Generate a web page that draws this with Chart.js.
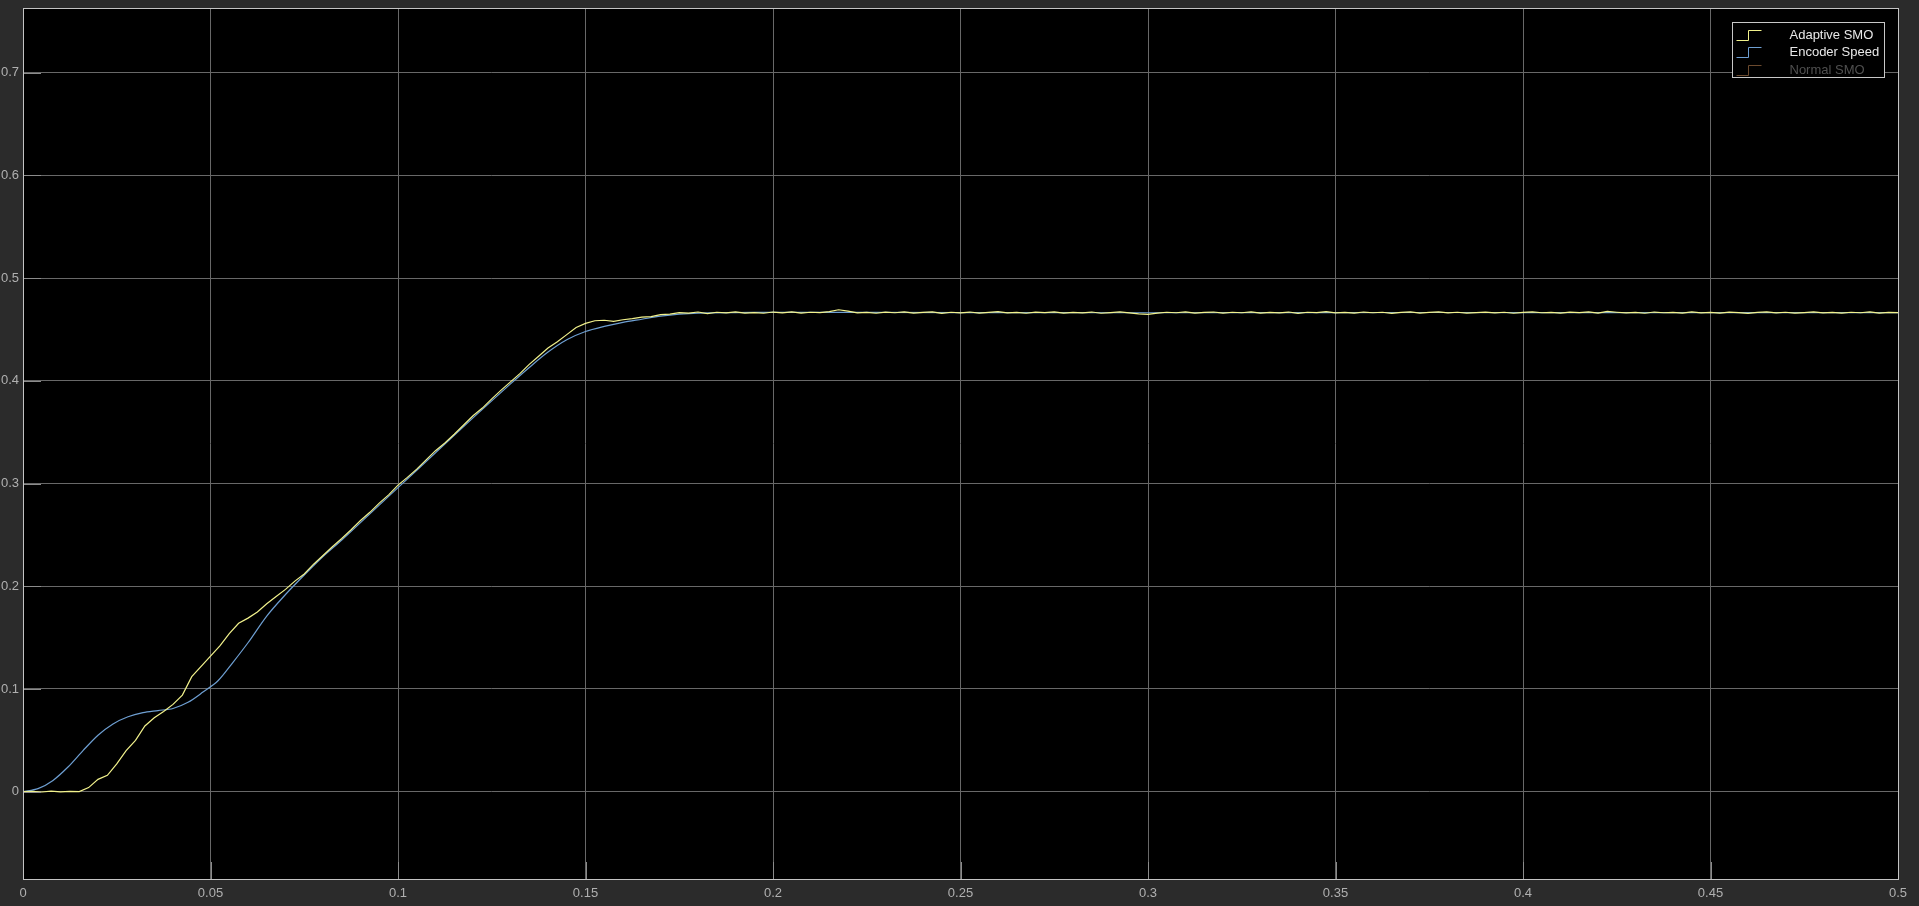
<!DOCTYPE html>
<html>
<head>
<meta charset="utf-8">
<title>Speed estimation</title>
<script src="https://cdn.jsdelivr.net/npm/chart.js@4.4.1/dist/chart.umd.min.js"></script>
<style>
    html, body { margin: 0; padding: 0; background: #2b2b2b; overflow: hidden; }
    #wrap { width: 1919px; height: 906px; position: relative; }
</style>
</head>
<body>
<div id="wrap"><canvas id="speedChart"></canvas></div>
<script>
// Axis ticks
const xTicks = [0, 0.05, 0.1, 0.15, 0.2, 0.25, 0.3, 0.35, 0.4, 0.45, 0.5];
const yTicks = [0, 0.1, 0.2, 0.3, 0.4, 0.5, 0.6, 0.7];

// Encoder speed (smooth reference)
const encoderTime = [0, 0.004, 0.008, 0.012, 0.016, 0.020, 0.024, 0.028, 0.032, 0.036,
    0.040, 0.044, 0.048, 0.052, 0.056, 0.060, 0.065, 0.070, 0.075, 0.080,
    0.085, 0.090, 0.100, 0.110, 0.120, 0.130, 0.135, 0.140, 0.145, 0.150,
    0.155, 0.160, 0.165, 0.170, 0.175, 0.180, 0.190, 0.200, 0.250, 0.300,
    0.350, 0.400, 0.450, 0.500];
const encoderSpeed = [0, 0.003, 0.011, 0.024, 0.040, 0.055, 0.066, 0.073, 0.077, 0.079,
    0.081, 0.087, 0.097, 0.108, 0.126, 0.145, 0.171, 0.192, 0.211, 0.229,
    0.245, 0.262, 0.296, 0.330, 0.364, 0.397, 0.413, 0.428, 0.440, 0.448,
    0.453, 0.457, 0.460, 0.463, 0.465, 0.466, 0.4665, 0.4667, 0.4665, 0.4663,
    0.4665, 0.4665, 0.4664, 0.4665];

// Adaptive SMO estimate, one sample every 2.5 ms from t = 0
const adaptiveDt = 0.0025;
const adaptiveSpeed = [
    0.0000, 0.0004, -0.0003, 0.0005, -0.0002, 0.0004, 0.0001, 0.0040, 0.0120, 0.0160,
    0.0270, 0.0400, 0.0500, 0.0640, 0.0720, 0.0780, 0.0850, 0.0940, 0.1120, 0.1220,
    0.1320, 0.1420, 0.1540, 0.1640, 0.1690, 0.1750, 0.1830, 0.1900, 0.1970, 0.2050,
    0.2120, 0.2215, 0.2300, 0.2385, 0.2465, 0.2550, 0.2640, 0.2720, 0.2810, 0.2890,
    0.2985, 0.3060, 0.3140, 0.3230, 0.3320, 0.3395, 0.3480, 0.3570, 0.3660, 0.3735,
    0.3825, 0.3910, 0.3990, 0.4070, 0.4160, 0.4240, 0.4320, 0.4380, 0.4450, 0.4520,
    0.4560, 0.4585, 0.4590, 0.4580, 0.4595, 0.4605, 0.4620, 0.4625, 0.4645, 0.4650,
    0.4665, 0.4660, 0.4670, 0.4655, 0.4668, 0.4662, 0.4672, 0.4660, 0.4665, 0.4658,
    0.4670, 0.4662, 0.4671, 0.4659, 0.4668, 0.4664, 0.4674, 0.4692, 0.4678, 0.4661,
    0.4667, 0.4658, 0.4669, 0.4663, 0.4672, 0.4660, 0.4666, 0.4671, 0.4657, 0.4668,
    0.4662, 0.4670, 0.4659, 0.4666, 0.4673, 0.4661, 0.4667, 0.4658, 0.4669, 0.4664,
    0.4671, 0.4660, 0.4667, 0.4662, 0.4670, 0.4658, 0.4665, 0.4671, 0.4661, 0.4652,
    0.4648, 0.4660, 0.4668, 0.4663, 0.4671, 0.4659, 0.4666, 0.4670, 0.4660, 0.4668,
    0.4663, 0.4672, 0.4659, 0.4666, 0.4662, 0.4670, 0.4657, 0.4668, 0.4664, 0.4673,
    0.4661, 0.4667, 0.4659, 0.4670, 0.4663, 0.4668, 0.4656, 0.4667, 0.4671, 0.4660,
    0.4666, 0.4672, 0.4661, 0.4668, 0.4659, 0.4665, 0.4670, 0.4662, 0.4668, 0.4658,
    0.4666, 0.4671, 0.4663, 0.4667, 0.4660, 0.4669, 0.4664, 0.4672, 0.4659, 0.4676,
    0.4668, 0.4661, 0.4667, 0.4658, 0.4670, 0.4663, 0.4666, 0.4659, 0.4671, 0.4662,
    0.4667, 0.4660, 0.4669, 0.4664, 0.4657, 0.4666, 0.4671, 0.4662, 0.4668, 0.4660,
    0.4665, 0.4672, 0.4661, 0.4667, 0.4659, 0.4668, 0.4663, 0.4671, 0.4660, 0.4666,
    0.4664
];

// Normal SMO is listed in the legend but has no trace on screen
const normalSpeed = [];

const FONT = '"Liberation Sans", Arial, Helvetica, sans-serif';

// Black plot area on the dark grey figure
const backgroundPlugin = {
    id: 'scopeBackground',
    beforeDraw(chart) {
        const ctx = chart.ctx;
        const a = chart.chartArea;
        ctx.save();
        ctx.fillStyle = '#2b2b2b';
        ctx.fillRect(0, 0, chart.width, chart.height);
        ctx.fillStyle = '#000000';
        ctx.fillRect(a.left, a.top, a.right - a.left, a.bottom - a.top);
        ctx.restore();
    }
};

// Box around the axes plus the short inner tick marks
const framePlugin = {
    id: 'scopeFrame',
    afterDraw(chart) {
        const ctx = chart.ctx;
        const a = chart.chartArea;
        const xs = chart.scales.x;
        const ys = chart.scales.y;
        ctx.save();
        ctx.strokeStyle = '#8c8c8c';
        ctx.lineWidth = 1;
        ctx.beginPath();
        yTicks.forEach(v => {
            const py = Math.round(ys.getPixelForValue(v)) + 0.5;
            ctx.moveTo(a.left, py);
            ctx.lineTo(a.left + 18, py);
        });
        xTicks.forEach(v => {
            const px = Math.round(xs.getPixelForValue(v)) + 0.5;
            ctx.moveTo(px, a.bottom);
            ctx.lineTo(px, a.bottom - 17);
        });
        ctx.stroke();
        ctx.strokeStyle = '#c4c4c4';
        ctx.strokeRect(Math.round(a.left) + 0.5, Math.round(a.top) + 0.5,
            Math.round(a.right - a.left), Math.round(a.bottom - a.top));
        ctx.restore();
    }
};

// Legend box in the top right corner, step glyph like the scope legend
const scopeLegendPlugin = {
    id: 'scopeLegend',
    afterDraw(chart) {
        const ctx = chart.ctx;
        const a = chart.chartArea;
        const boxW = 152, boxH = 55;
        const bx = Math.round(a.right - 14 - boxW) + 0.5;
        const by = Math.round(a.top + 14) + 0.5;
        const textColors = ['#e8e8e8', '#e8e8e8', '#505050'];
        ctx.save();
        ctx.fillStyle = '#000000';
        ctx.fillRect(bx, by, boxW, boxH);
        ctx.strokeStyle = '#c8c8c8';
        ctx.lineWidth = 1;
        ctx.strokeRect(bx, by, boxW, boxH);
        ctx.font = '13px ' + FONT;
        ctx.textBaseline = 'middle';
        chart.data.datasets.forEach((ds, i) => {
            const cy = Math.round(by + 12 + i * 17.5) + 0.5;
            const gx = bx + 4;
            ctx.strokeStyle = ds.borderColor;
            ctx.beginPath();
            ctx.moveTo(gx, cy + 5);
            ctx.lineTo(gx + 12, cy + 5);
            ctx.lineTo(gx + 12, cy - 5);
            ctx.lineTo(gx + 25, cy - 5);
            ctx.stroke();
            ctx.fillStyle = textColors[i];
            ctx.fillText(ds.label, bx + 57, cy);
        });
        ctx.restore();
    }
};

function formatTick(value) {
    return String(Number(value.toFixed(2)));
}

const ctxSpeed = document.getElementById('speedChart').getContext('2d');
const speedChart = new Chart(ctxSpeed, {
    type: 'line',
    data: {
        datasets: [
            {
                label: 'Adaptive SMO',
                data: adaptiveSpeed.map((v, i) => ({ x: i * adaptiveDt, y: v })),
                borderColor: '#f2f28c',
                borderWidth: 1.2,
                pointRadius: 0,
                tension: 0,
            },
            {
                label: 'Encoder Speed',
                data: encoderTime.map((t, i) => ({ x: t, y: encoderSpeed[i] })),
                borderColor: '#6e9fd2',
                borderWidth: 1.2,
                pointRadius: 0,
                tension: 0.3,
            },
            {
                label: 'Normal SMO',
                data: normalSpeed,
                borderColor: '#6b4a2e',
                borderWidth: 1,
                pointRadius: 0,
            }
        ]
    },
    options: {
        responsive: true,
        maintainAspectRatio: false,
        animation: false,
        layout: { padding: { top: 8, right: 21, left: 0, bottom: 0 } },
        plugins: {
            legend: { display: false },
            tooltip: { enabled: false },
        },
        scales: {
            x: {
                type: 'linear',
                min: 0,
                max: 0.5,
                afterFit: scale => {
                    scale.height = 27;
                    scale.paddingLeft = 0;
                    scale.paddingRight = 0;
                },
                afterBuildTicks: scale => { scale.ticks = xTicks.map(v => ({ value: v })); },
                grid: { color: '#686868', drawTicks: false },
                border: { display: false },
                ticks: {
                    color: '#b0b0b0',
                    padding: 7,
                    maxRotation: 0,
                    autoSkip: false,
                    font: { family: FONT, size: 13 },
                    callback: value => formatTick(value),
                },
            },
            y: {
                type: 'linear',
                min: -0.085,
                max: 0.763,
                afterFit: scale => {
                    scale.width = 23;
                    scale.paddingTop = 0;
                    scale.paddingBottom = 0;
                },
                afterBuildTicks: scale => { scale.ticks = yTicks.map(v => ({ value: v })); },
                grid: { color: '#686868', drawTicks: false },
                border: { display: false },
                ticks: {
                    color: '#b0b0b0',
                    padding: 4,
                    autoSkip: false,
                    font: { family: FONT, size: 13 },
                    callback: value => formatTick(value),
                },
            }
        }
    },
    plugins: [backgroundPlugin, framePlugin, scopeLegendPlugin]
});
</script>
</body>
</html>
